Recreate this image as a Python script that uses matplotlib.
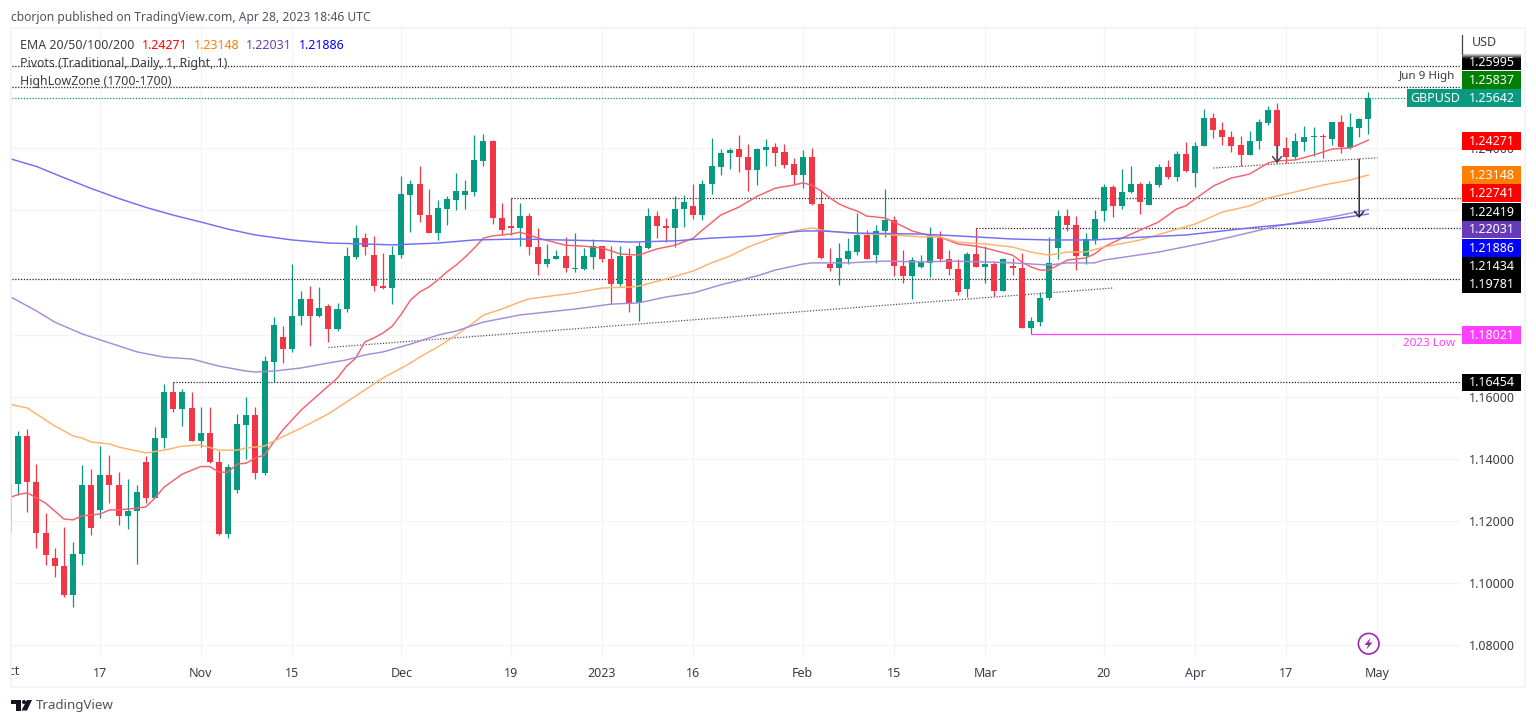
import matplotlib
matplotlib.use('Agg')
import matplotlib.pyplot as plt
import numpy as np
from matplotlib.patches import Rectangle, Circle, Polygon
from matplotlib.transforms import Bbox, IdentityTransform, TransformedBbox, blended_transform_factory

plt.rcParams['font.family'] = ['Noto Sans', 'DejaVu Sans']

# daily candles, Oct 3 2022 to Apr 28 2023
opens = [1.1159, 1.1317, 1.1473, 1.1324, 1.1159, 1.1079, 1.1052, 1.0961, 1.1092, 1.1313,
         1.1233, 1.1348, 1.1316, 1.1214, 1.1231, 1.1390, 1.1274, 1.1466, 1.1615, 1.1559,
         1.1563, 1.1457, 1.1481, 1.1390, 1.1155, 1.1298, 1.1509, 1.1540, 1.1353, 1.1712,
         1.1793, 1.1753, 1.1859, 1.1913, 1.1859, 1.1892, 1.1817, 1.1881, 1.2051, 1.2110,
         1.2058, 1.1958, 1.1951, 1.2055, 1.2251, 1.2287, 1.2186, 1.2127, 1.2206, 1.2233,
         1.2251, 1.2261, 1.2361, 1.2424, 1.2177, 1.2151, 1.2144, 1.2183, 1.2082, 1.2026,
         1.2042, 1.2053, 1.2012, 1.2012, 1.2051, 1.2085, 1.2044, 1.1962, 1.2053, 1.1901,
         1.2078, 1.2183, 1.2151, 1.2144, 1.2204, 1.2214, 1.2187, 1.2284, 1.2341, 1.2385,
         1.2397, 1.2371, 1.2332, 1.2395, 1.2405, 1.2388, 1.2349, 1.2315, 1.2372, 1.2222,
         1.2028, 1.2014, 1.2044, 1.2067, 1.2120, 1.2056, 1.2133, 1.2170, 1.2022, 1.1988,
         1.2019, 1.2031, 1.2112, 1.2044, 1.2011, 1.1947, 1.2060, 1.2018, 1.2027, 1.1940,
         1.2022, 1.2016, 1.1822, 1.1841, 1.1917, 1.2079, 1.2182, 1.2153, 1.2053, 1.2106,
         1.2198, 1.2277, 1.2215, 1.2259, 1.2286, 1.2218, 1.2282, 1.2340, 1.2308, 1.2383,
         1.2322, 1.2407, 1.2498, 1.2460, 1.2438, 1.2410, 1.2379, 1.2424, 1.2482, 1.2523,
         1.2403, 1.2371, 1.2422, 1.2436, 1.2440, 1.2431, 1.2484, 1.2403, 1.2467, 1.2494]
highs = [1.1325, 1.1490, 1.1495, 1.1382, 1.1225, 1.1111, 1.1179, 1.1131, 1.1380, 1.1366,
         1.1440, 1.1410, 1.1358, 1.1335, 1.1313, 1.1407, 1.1501, 1.1641, 1.1646, 1.1624,
         1.1614, 1.1567, 1.1567, 1.1424, 1.1382, 1.1542, 1.1599, 1.1567, 1.1731, 1.1856,
         1.1828, 1.2028, 1.1940, 1.1957, 1.1952, 1.1897, 1.1902, 1.2081, 1.2154, 1.2127,
         1.2117, 1.2064, 1.2085, 1.2311, 1.2298, 1.2343, 1.2269, 1.2233, 1.2246, 1.2320,
         1.2298, 1.2444, 1.2446, 1.2427, 1.2223, 1.2241, 1.2223, 1.2191, 1.2145, 1.2091,
         1.2074, 1.2113, 1.2126, 1.2078, 1.2109, 1.2085, 1.2085, 1.2087, 1.2078, 1.2098,
         1.2208, 1.2197, 1.2177, 1.2246, 1.2250, 1.2287, 1.2298, 1.2435, 1.2397, 1.2402,
         1.2445, 1.2414, 1.2403, 1.2430, 1.2418, 1.2416, 1.2370, 1.2395, 1.2400, 1.2266,
         1.2078, 1.2094, 1.2110, 1.2191, 1.2136, 1.2152, 1.2268, 1.2182, 1.2074, 1.2050,
         1.2055, 1.2148, 1.2134, 1.2074, 1.2042, 1.2066, 1.2142, 1.2086, 1.2036, 1.2046,
         1.2046, 1.2062, 1.1858, 1.1937, 1.2113, 1.2201, 1.2204, 1.2182, 1.2126, 1.2201,
         1.2286, 1.2281, 1.2334, 1.2344, 1.2291, 1.2294, 1.2349, 1.2362, 1.2392, 1.2422,
         1.2421, 1.2526, 1.2516, 1.2484, 1.2455, 1.2440, 1.2455, 1.2494, 1.2536, 1.2546,
         1.2438, 1.2449, 1.2474, 1.2469, 1.2447, 1.2484, 1.2507, 1.2515, 1.2497, 1.2583]
lows = [1.1155, 1.1281, 1.1227, 1.1112, 1.1055, 1.1019, 1.0952, 1.0922, 1.1057, 1.1153,
        1.1208, 1.1257, 1.1185, 1.1172, 1.1059, 1.1257, 1.1272, 1.1434, 1.1551, 1.1504,
        1.1456, 1.1438, 1.1386, 1.1153, 1.1142, 1.1289, 1.1399, 1.1334, 1.1347, 1.1648,
        1.1708, 1.1742, 1.1832, 1.1763, 1.1856, 1.1777, 1.1810, 1.1873, 1.2044, 1.2058,
        1.1940, 1.1946, 1.1899, 1.2048, 1.2132, 1.2162, 1.2126, 1.2104, 1.2154, 1.2200,
        1.2205, 1.2246, 1.2343, 1.2156, 1.2121, 1.2121, 1.2085, 1.2056, 1.1993, 1.2017,
        1.2042, 1.2001, 1.2001, 1.2007, 1.2010, 1.2033, 1.1900, 1.1957, 1.1872, 1.1843,
        1.2076, 1.2110, 1.2099, 1.2083, 1.2147, 1.2171, 1.2169, 1.2253, 1.2313, 1.2334,
        1.2324, 1.2263, 1.2283, 1.2343, 1.2343, 1.2338, 1.2284, 1.2272, 1.2217, 1.2042,
        1.2005, 1.1960, 1.2029, 1.2057, 1.2044, 1.2032, 1.2115, 1.1990, 1.1967, 1.1916,
        1.2014, 1.1985, 1.2035, 1.1993, 1.1928, 1.1922, 1.2017, 1.1967, 1.1924, 1.1939,
        1.1993, 1.1820, 1.1802, 1.1828, 1.1910, 1.2045, 1.2135, 1.2009, 1.2028, 1.2092,
        1.2166, 1.2179, 1.2206, 1.2258, 1.2190, 1.2218, 1.2277, 1.2303, 1.2294, 1.2324,
        1.2275, 1.2407, 1.2435, 1.2412, 1.2390, 1.2344, 1.2379, 1.2398, 1.2477, 1.2352,
        1.2352, 1.2365, 1.2393, 1.2376, 1.2368, 1.2411, 1.2387, 1.2399, 1.2436, 1.2447]
closes = [1.1319, 1.1473, 1.1324, 1.1159, 1.1090, 1.1052, 1.0961, 1.1093, 1.1313, 1.1176,
          1.1348, 1.1315, 1.1214, 1.1231, 1.1293, 1.1274, 1.1467, 1.1615, 1.1559, 1.1615,
          1.1457, 1.1481, 1.1388, 1.1155, 1.1374, 1.1511, 1.1540, 1.1353, 1.1715, 1.1832,
          1.1753, 1.1861, 1.1913, 1.1859, 1.1885, 1.1817, 1.1882, 1.2053, 1.2110, 1.2083,
          1.1958, 1.1951, 1.2055, 1.2253, 1.2287, 1.2185, 1.2127, 1.2208, 1.2236, 1.2262,
          1.2262, 1.2363, 1.2424, 1.2176, 1.2138, 1.2144, 1.2183, 1.2081, 1.2026, 1.2044,
          1.2053, 1.2013, 1.2015, 1.2053, 1.2085, 1.2043, 1.1964, 1.2053, 1.1900, 1.2085,
          1.2183, 1.2150, 1.2144, 1.2205, 1.2227, 1.2187, 1.2285, 1.2342, 1.2386, 1.2394,
          1.2371, 1.2332, 1.2397, 1.2405, 1.2384, 1.2348, 1.2315, 1.2372, 1.2220, 1.2046,
          1.2014, 1.2046, 1.2069, 1.2120, 1.2045, 1.2134, 1.2170, 1.2022, 1.1988, 1.2039,
          1.2033, 1.2113, 1.2044, 1.2011, 1.1937, 1.2060, 1.2018, 1.2027, 1.1941, 1.2042,
          1.2015, 1.1822, 1.1842, 1.1917, 1.2031, 1.2182, 1.2153, 1.2054, 1.2108, 1.2173,
          1.2277, 1.2215, 1.2260, 1.2286, 1.2226, 1.2286, 1.2340, 1.2308, 1.2383, 1.2326,
          1.2408, 1.2498, 1.2460, 1.2437, 1.2409, 1.2379, 1.2424, 1.2484, 1.2523, 1.2409,
          1.2374, 1.2424, 1.2438, 1.2440, 1.2438, 1.2484, 1.2404, 1.2468, 1.2495, 1.25642]

ema20_idx = [0, 1, 2, 3, 4, 5, 6, 7, 8, 10, 11, 12, 13, 14, 15, 16, 17, 19, 21, 22, 23, 24, 25, 26, 27, 28, 29, 30,
             31, 32, 33, 34, 35, 36, 37, 38, 39, 40, 41, 42, 43, 44, 45, 46, 47, 48, 49, 50, 51, 52, 53, 54, 55, 56,
             57, 58, 61, 63, 65, 67, 69, 71, 73, 75, 76, 78, 80, 82, 84, 86, 87, 88, 89, 90, 91, 92, 93, 94, 96, 97,
             99, 101, 102, 104, 106, 107, 110, 111, 112, 113, 114, 115, 116, 118, 119, 120, 122, 124, 126, 128, 129,
             130, 132, 134, 135, 136, 138, 139, 141, 143, 145, 147, 148, 149]
ema20 = [1.1273, 1.1284, 1.1289, 1.1273, 1.1256, 1.1231, 1.1205, 1.1202, 1.1215, 1.1221, 1.1234, 1.1234, 1.1237,
         1.1240, 1.1244, 1.1273, 1.1308, 1.1350, 1.1374, 1.1374, 1.1356, 1.1356, 1.1382, 1.1385, 1.1402, 1.1411,
         1.1453, 1.1492, 1.1524, 1.1556, 1.1582, 1.1608, 1.1634, 1.1660, 1.1698, 1.1724, 1.1776, 1.1789, 1.1805,
         1.1827, 1.1866, 1.1911, 1.1937, 1.1953, 1.1976, 1.2002, 1.2024, 1.2050, 1.2079, 1.2111, 1.2118, 1.2121,
         1.2124, 1.2130, 1.2121, 1.2111, 1.2088, 1.2085, 1.2079, 1.2060, 1.2056, 1.2076, 1.2088, 1.2111, 1.2137,
         1.2185, 1.2211, 1.2246, 1.2272, 1.2282, 1.2289, 1.2282, 1.2263, 1.2240, 1.2221, 1.2208, 1.2198, 1.2182,
         1.2176, 1.2163, 1.2134, 1.2118, 1.2115, 1.2092, 1.2085, 1.2079, 1.2056, 1.2034, 1.2018, 1.2008, 1.2008,
         1.2024, 1.2040, 1.2047, 1.2060, 1.2082, 1.2111, 1.2137, 1.2163, 1.2205, 1.2215, 1.2237, 1.2279, 1.2305,
         1.2311, 1.2318, 1.2353, 1.2360, 1.2363, 1.2379, 1.2398, 1.2402, 1.2414, 1.24271]
ema50_idx = [0, 1, 2, 4, 5, 7, 8, 9, 11, 12, 15, 17, 19, 21, 23, 25, 26, 28, 29, 32, 35, 38, 41, 44, 45, 47, 49, 51,
             52, 54, 56, 57, 62, 65, 68, 69, 72, 75, 77, 79, 81, 84, 86, 88, 89, 92, 95, 97, 100, 102, 104, 107, 110,
             112, 114, 116, 118, 120, 124, 127, 130, 133, 136, 138, 141, 144, 147, 149]
ema50 = [1.1576, 1.1569, 1.1563, 1.1524, 1.1505, 1.1473, 1.1466, 1.1453, 1.1447, 1.1437, 1.1418, 1.1427, 1.1440,
         1.1444, 1.1427, 1.1427, 1.1434, 1.1440, 1.1456, 1.1498, 1.1544, 1.1602, 1.1660, 1.1708, 1.1727, 1.1760,
         1.1798, 1.1840, 1.1863, 1.1882, 1.1905, 1.1915, 1.1934, 1.1950, 1.1953, 1.1956, 1.1979, 1.2005, 1.2031,
         1.2053, 1.2082, 1.2115, 1.2134, 1.2144, 1.2137, 1.2127, 1.2124, 1.2121, 1.2115, 1.2115, 1.2098, 1.2092,
         1.2082, 1.2066, 1.2056, 1.2066, 1.2066, 1.2082, 1.2105, 1.2131, 1.2156, 1.2195, 1.2215, 1.2240, 1.2260,
         1.2282, 1.2298, 1.23148]
ema100_idx = [0, 1, 3, 5, 8, 11, 14, 17, 20, 23, 26, 27, 29, 32, 35, 37, 39, 41, 44, 47, 49, 51, 52, 56, 62, 66, 69,
              72, 75, 78, 82, 84, 87, 88, 92, 96, 100, 103, 107, 110, 114, 116, 119, 120, 126, 131, 134, 139, 141,
              145, 149]
ema100 = [1.1924, 1.1908, 1.1876, 1.1840, 1.1802, 1.1773, 1.1744, 1.1727, 1.1721, 1.1698, 1.1682, 1.1679, 1.1682,
          1.1692, 1.1708, 1.1718, 1.1734, 1.1744, 1.1769, 1.1798, 1.1811, 1.1831, 1.1840, 1.1863, 1.1882, 1.1898,
          1.1902, 1.1921, 1.1934, 1.1960, 1.1989, 1.2008, 1.2027, 1.2031, 1.2031, 1.2037, 1.2034, 1.2037, 1.2034,
          1.2031, 1.2024, 1.2031, 1.2031, 1.2040, 1.2066, 1.2095, 1.2115, 1.2150, 1.2160, 1.2179, 1.22031]
ema200_idx = [0, 3, 6, 9, 12, 15, 18, 21, 24, 27, 31, 35, 39, 42, 47, 51, 56, 65, 68, 73, 77, 82, 87, 89, 93, 100,
              104, 110, 114, 119, 122, 129, 137, 143, 149]
ema200 = [1.2368, 1.2342, 1.2306, 1.2271, 1.2239, 1.2210, 1.2185, 1.2163, 1.2140, 1.2121, 1.2105, 1.2095, 1.2092,
          1.2089, 1.2095, 1.2105, 1.2108, 1.2102, 1.2098, 1.2102, 1.2111, 1.2118, 1.2134, 1.2134, 1.2127, 1.2124,
          1.2118, 1.2108, 1.2105, 1.2105, 1.2111, 1.2121, 1.2147, 1.2163, 1.21886]

# dotted levels
pivot_levels = [1.2666, 1.25995, 1.22419, 1.21434, 1.19781, 1.16454]
pivot_start = [0, 0, 55, 106, 0, 18]
low_level = 1.18021
low_start = 112

# price scale badges
badge_values = ['1.25995', '1.25837', '1.25642', '1.24271', '1.23148', '1.22741', '1.22419',
                '1.22031', '1.21886', '1.21434', '1.19781', '1.18021', '1.16454']
badge_colors = ['#000000', '#008000', '#089981', '#ff0000', '#ff7f00', '#ff0000', '#000000',
                '#673ab7', '#0000ff', '#000000', '#000000', '#ff40ff', '#000000']
badge_y = [62, 80, 98, 141, 175, 193, 212, 229.5, 248, 266, 284, 335, 382.5]

# the scale labels that the badges cover stay empty, their grid lines stay
y_ticks = [1.08, 1.10, 1.12, 1.14, 1.16, 1.18, 1.20, 1.22, 1.24, 1.26]
y_labels = ['1.08000', '1.10000', '1.12000', '1.14000', '1.16000', '', '', '', '1.24000', '']
x_ticks = [10, 21, 31, 43, 55, 65, 75, 87, 97, 107, 120, 130, 140, 150]
x_labels = ['17', 'Nov', '15', 'Dec', '19', '2023', '16', 'Feb', '15', 'Mar', '20', 'Apr', '17', 'May']

W, H = 1536, 724
GREEN = '#089981'
RED = '#f23645'
TEXT = '#3a3d45'
ARROW = '->,head_length=0.35,head_width=0.3'

fig = plt.figure(figsize=(W / 100, H / 100), dpi=100, facecolor='white')

# pane spans x 11-1461, y 28-657 in pixels
ax = fig.add_axes([11 / W, 1 - 657 / H, 1450 / W, 629 / H])
ax.set_xlim(0.208, 159.16)
ax.set_ylim(1.07597, 1.27887)
for spine in ax.spines.values():
    spine.set_visible(False)
ax.grid(True, color='#f3f4f7', lw=0.9)
ax.set_axisbelow(True)

ax.yaxis.tick_right()
ax.set_yticks(y_ticks)
ax.set_yticklabels(y_labels)
ax.tick_params(axis='y', length=0, pad=6, labelsize=9, labelcolor=TEXT)
ax.set_xticks(x_ticks)
ax.set_xticklabels(x_labels)
ax.tick_params(axis='x', length=0, pad=7, labelsize=9, labelcolor=TEXT)
for lab in ax.get_xticklabels():
    if lab.get_text() == '2023':
        lab.set_fontweight('bold')

# Oct label is cut by the left edge of the chart
oct_lab = ax.text(0, -0.0235, 'Oct', transform=blended_transform_factory(ax.transData, ax.transAxes),
                  ha='center', va='center', fontsize=9, color=TEXT)
oct_lab.set_clip_on(True)
oct_lab.set_clip_box(TransformedBbox(Bbox([[11, 0], [W, H]]), IdentityTransform()))

# candles
idx = np.arange(len(opens))
o, h, l, c = map(np.array, (opens, highs, lows, closes))
up = c >= o
colors = np.where(up, GREEN, RED)
ax.vlines(idx, l, h, colors=colors, lw=0.9, zorder=2)
ax.bar(idx, np.abs(c - o), bottom=np.minimum(o, c), width=0.66, color=colors, lw=0, zorder=3)

# levels
for lev, start in zip(pivot_levels, pivot_start):
    ax.hlines(lev, start, 160, colors='#222222', lw=0.9, linestyles=(0, (1, 1.3)), zorder=2.5)
ax.hlines(float(badge_values[2]), 0, 160, colors=GREEN, lw=0.9, linestyles=(0, (1, 1.3)), zorder=2.5)
ax.hlines(low_level, low_start, 160, colors='#ff40ff', lw=0.85, zorder=2.5)

# trend lines
ax.plot([35, 121], [1.1758, 1.1950], color='#555555', lw=0.9, ls=(0, (1, 1.3)), zorder=2.5)
ax.plot([132, 150], [1.2337, 1.2370], color='#555555', lw=0.9, ls=(0, (1, 1.3)), zorder=2.5)

# EMAs
ax.plot(ema20_idx, ema20, color='#f6616c', lw=1.05, zorder=4)
ax.plot(ema50_idx, ema50, color='#ffb26b', lw=1.05, zorder=4)
ax.plot(ema100_idx, ema100, color='#a68cd8', lw=1.05, zorder=4)
ax.plot(ema200_idx, ema200, color='#6f6ff5', lw=1.05, zorder=4)

# arrows
ax.annotate('', xy=(148, 1.2176), xytext=(148, 1.2365),
            arrowprops=dict(arrowstyle=ARROW, color='#2a2e39', lw=1.1, mutation_scale=11, shrinkA=0, shrinkB=0), zorder=5)
ax.annotate('', xy=(139, 1.2353), xytext=(139, 1.2409),
            arrowprops=dict(arrowstyle=ARROW, color='#44474f', lw=1.1, mutation_scale=11, shrinkA=0, shrinkB=0), zorder=5)

# overlay in pixel coordinates for frame, badges, header and logo
ov = fig.add_axes([0, 0, 1, 1], zorder=10)
ov.patch.set_alpha(0)
ov.axis('off')

# frame
ov.add_patch(Rectangle((11, 28), 1514, 658.5, fc='none', ec='#eff1f7', lw=1.1))
ov.plot([1461.5, 1461.5], [35, 54], color='#444444', lw=0.9)

# top badge fades out upwards
grad = np.clip(np.linspace(0, 3, 34), 0, 1).reshape(-1, 1)
ov.imshow(grad, extent=(1462, 1521, 70.5, 53.5), cmap='gray_r', aspect='auto', vmin=0, vmax=1, zorder=1)

for val, col, y in zip(badge_values, badge_colors, badge_y):
    if val != '1.25995':
        ov.add_patch(Rectangle((1462, y - 8.7), 59, 17.4, fc=col, ec='none', zorder=1))
    ov.text(1491.5, y + 0.3, val, color='white', fontsize=9, ha='center', va='center', zorder=2)
ov.add_patch(Rectangle((1407, 89.3), 55, 17.4, fc=GREEN, ec='none', zorder=1))
ov.text(1435, 98.3, 'GBPUSD', color='white', fontsize=9, ha='center', va='center', zorder=2)
ov.text(1472, 43, 'USD', color=TEXT, fontsize=9, ha='left', va='center')
ov.text(1455, 77, 'Jun 9 High', color=TEXT, fontsize=8.4, ha='right', va='center')
ov.text(1455, 343.5, '2023 Low', color='#ff40ff', fontsize=8.4, ha='right', va='center')

# header and legend
ov.text(11, 17, 'cborjon published on TradingView.com, Apr 28, 2023 18:46 UTC', color='#50535e',
        fontsize=8.7, ha='left', va='center')
ov.text(20, 45.5, 'EMA 20/50/100/200', color=TEXT, fontsize=8.9, ha='left', va='center')
for x, val, col in zip([142, 194, 246, 299], ['1.24271', '1.23148', '1.22031', '1.21886'],
                       ['#ff0000', '#ff7f00', '#673ab7', '#0000ff']):
    ov.text(x, 45.5, val, color=col, fontsize=8.9, ha='left', va='center')
ov.text(20, 63.5, 'Pivots (Traditional, Daily, 1, Right, 1)', color=TEXT, fontsize=8.9, ha='left', va='center')
ov.text(20, 81.5, 'HighLowZone (1700-1700)', color=TEXT, fontsize=8.9, ha='left', va='center')

# lightning badge
ov.add_patch(Circle((1368.7, 643.7), 10.3, fc='white', ec='#9c27b0', lw=1.2))
ov.add_patch(Polygon([(1370.5, 638), (1364.5, 645), (1368, 645), (1366.5, 649.5), (1372.5, 642.5), (1369, 642.5)],
                     fc='#9c27b0', ec='none'))

# TradingView logo
ov.add_patch(Polygon([(11, 700), (21, 700), (21, 710.5), (16, 710.5), (16, 704), (11, 704)], fc='#131722', ec='none'))
ov.add_patch(Circle((24, 702), 2, fc='#131722', ec='none'))
ov.add_patch(Polygon([(27, 700), (32, 700), (27, 710.5), (21.5, 710.5)], fc='#131722', ec='none'))
ov.text(36, 706, 'TradingView', color='#50535e', fontsize=9.6, ha='left', va='center')

ov.set_xlim(0, W)
ov.set_ylim(H, 0)

fig.savefig('out.png', dpi=100, facecolor='white')
